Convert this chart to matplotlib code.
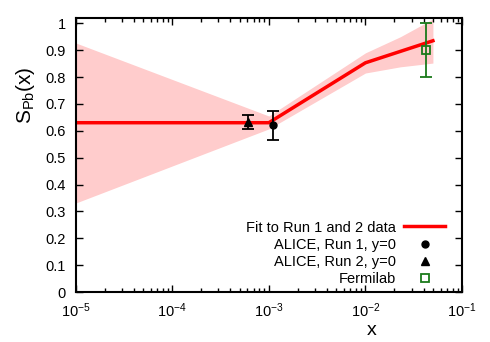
import matplotlib
matplotlib.use("Agg")
import matplotlib.pyplot as plt
from matplotlib.ticker import LogLocator, NullFormatter

plt.rcParams['font.family'] = ['Liberation Sans', 'DejaVu Sans']
plt.rcParams['mathtext.fontset'] = 'custom'
plt.rcParams['mathtext.rm'] = 'Liberation Sans'
plt.rcParams['mathtext.it'] = 'Liberation Sans'

# fit curve and its uncertainty band
fit_x = [1e-5, 1e-3, 1e-2, 0.05]
fit_y = [0.63, 0.63, 0.853, 0.935]
band_x = [1e-5, 1e-3, 1e-2, 0.023, 0.05]
band_hi = [0.927, 0.655, 0.89, 0.95, 1.016]
band_lo = [0.331, 0.607, 0.815, 0.838, 0.852]

# data points
run1_x = [1.11e-3]
run1_y = [0.62]
run1_err = [0.055]
run2_x = [6.1e-4]
run2_y = [0.633]
run2_err = [0.025]
ferm_x = [0.042]
ferm_y = [0.9]
ferm_err = [0.1]

xticks = [1e-5, 1e-4, 1e-3, 1e-2, 1e-1]
xticklabels = ['10$^{-5}$', '10$^{-4}$', '10$^{-3}$', '10$^{-2}$', '10$^{-1}$']
yticks = [0, 0.1, 0.2, 0.3, 0.4, 0.5, 0.6, 0.7, 0.8, 0.9, 1]
yticklabels = ['0', '0.1', '0.2', '0.3', '0.4', '0.5', '0.6', '0.7', '0.8', '0.9', '1']

fig = plt.figure(figsize=(4.9, 3.42), dpi=100)
ax = fig.add_axes([75.7/490, 1-292/342, (462-75.7)/490, (292-18.3)/342])

ax.fill_between(band_x, band_lo, band_hi, color='#ffcccc', lw=0)
ax.plot(fit_x, fit_y, color='#ff0000', lw=2.5, label='Fit to Run 1 and 2 data')

ax.errorbar(run1_x, run1_y, yerr=run1_err, fmt='none', ecolor='black', elinewidth=1.3, capsize=4, capthick=1.3)
ax.errorbar(run2_x, run2_y, yerr=run2_err, fmt='none', ecolor='black', elinewidth=1.3, capsize=4, capthick=1.3)
ax.errorbar(ferm_x, ferm_y, yerr=ferm_err, fmt='none', ecolor='#1a7a1a', elinewidth=1.3, capsize=4, capthick=1.3)

ax.plot(run1_x, run1_y, 'o', color='black', ms=5, ls='none', label='ALICE, Run 1, y=0')
ax.plot(run2_x, run2_y, '^', color='black', ms=5.5, ls='none', label='ALICE, Run 2, y=0')
ax.plot(ferm_x, ferm_y, 's', mfc='none', mec='#1a7a1a', mew=1.3, ms=6, ls='none', label='Fermilab')

ax.set_xscale('log')
ax.set_xlim(1e-5, 1e-1)
ax.set_ylim(0, 1.0186)
ax.set_xticks(xticks)
ax.set_xticklabels(xticklabels)
ax.set_yticks(yticks)
ax.set_yticklabels(yticklabels)
ax.xaxis.set_minor_locator(LogLocator(base=10, subs=range(2, 10), numticks=20))
ax.xaxis.set_minor_formatter(NullFormatter())

ax.tick_params(which='both', direction='in', top=True, right=True, labelsize=10.5, width=1)
ax.tick_params(which='major', length=5)
ax.tick_params(axis='y', which='major', pad=7)
ax.tick_params(axis='x', which='major', pad=7)
ax.tick_params(which='minor', length=3)
for s in ax.spines.values():
    s.set_linewidth(1.5)

ax.set_ylabel('S$_{\\mathrm{Pb}}$(x)', fontsize=15)
ax.yaxis.set_label_coords(-0.10, 0.72)
ax.set_xlabel('x', fontsize=14)
ax.xaxis.set_label_coords((372-75.7)/(462-75.7), -0.11)

leg = ax.legend(loc='lower right', bbox_to_anchor=(0.971, 0.0), frameon=False, markerfirst=False,
                fontsize=10.5, handlelength=2.8, handletextpad=0.55, labelspacing=0.22,
                borderaxespad=0.0)
for t in leg.get_texts():
    t.set_ha('right')

fig.savefig('out.png', dpi=100)
